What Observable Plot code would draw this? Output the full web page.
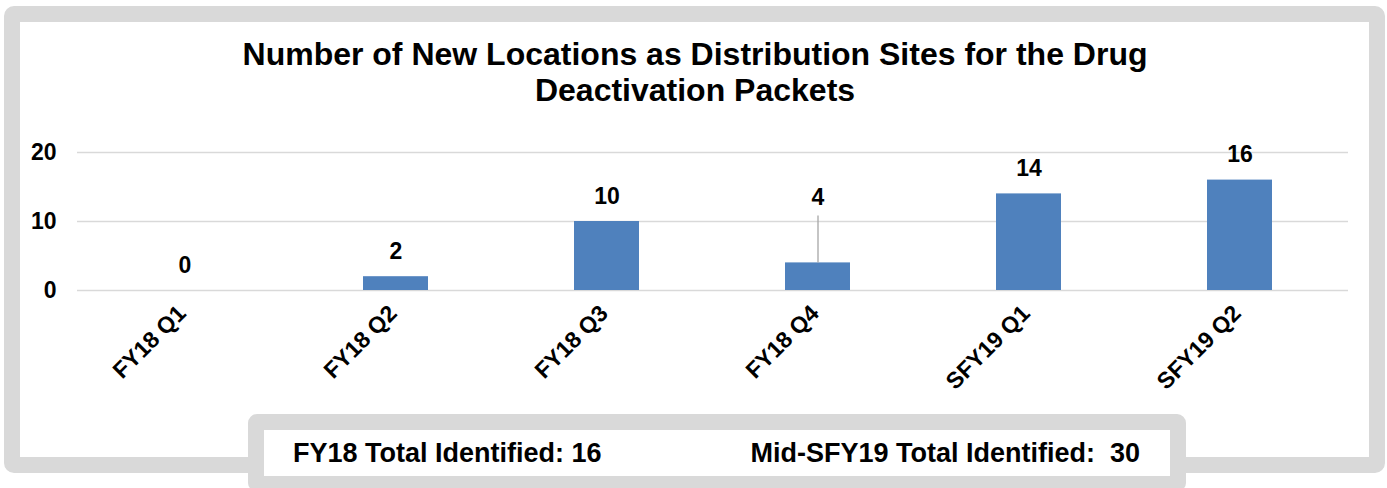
<!DOCTYPE html>
<html>
<head>
<meta charset="utf-8">
<script src="https://cdn.jsdelivr.net/npm/d3@7"></script>
<script src="https://cdn.jsdelivr.net/npm/@observablehq/plot@0.6"></script>
<style>
  html, body { margin: 0; padding: 0; background: #fff; width: 1387px; height: 488px; overflow: hidden;
    font-family: "Liberation Sans", Arial, sans-serif; color: #000; }
  #frame { position: absolute; left: 4px; top: 6px; width: 1349px; height: 435px;
    border: 16px solid #d9d9d9; border-radius: 10px; background: #fff; }
  #title { position: absolute; left: 20px; top: 36px; width: 1350px; text-align: center;
    font-size: 32px; line-height: 36px; font-weight: bold; }
  #chart { position: absolute; left: 0; top: 110px; }
  #totals { position: absolute; left: 248px; top: 414px; height: 46px;
    border: 16px solid #d9d9d9; border-radius: 9px; background: #fff;
    display: flex; justify-content: space-between; align-items: center;
    padding: 0 30px 0 29px; box-sizing: content-box; width: 847px;
    font-size: 27px; font-weight: bold; white-space: pre; }
</style>
</head>
<body>
<div id="frame"></div>
<div id="title"></div>
<div id="chart"></div>
<div id="totals"><span id="t1"></span><span id="t2"></span></div>
<script>
const titleLines = ["Number of New Locations as Distribution Sites for the Drug", "Deactivation Packets"];
const quarters = ["FY18 Q1", "FY18 Q2", "FY18 Q3", "FY18 Q4", "SFY19 Q1", "SFY19 Q2"];
const newSites = [0, 2, 10, 4, 14, 16];
const yTicks = [0, 10, 20];
const leaderLabelQuarters = ["FY18 Q4"];
const totalLabels = ["FY18 Total Identified: ", "Mid-SFY19 Total Identified:  "];
const totalValues = [16, 30];

const data = quarters.map((q, i) => ({quarter: q, value: newSites[i]}));
const isLeader = d => leaderLabelQuarters.includes(d.quarter);

document.getElementById("title").innerHTML = titleLines.join("<br>");
document.getElementById("t1").textContent = totalLabels[0] + totalValues[0];
document.getElementById("t2").textContent = totalLabels[1] + totalValues[1];

const font = "'Liberation Sans', Arial, sans-serif";
const chart = Plot.plot({
  width: 1387,
  height: 300,
  marginLeft: 77,
  marginRight: 39,
  marginTop: 42,
  marginBottom: 120,
  style: {background: "transparent", fontFamily: font, fontSize: "23px", fontWeight: "bold", color: "#000"},
  x: {domain: quarters, paddingInner: 0.69, paddingOuter: 0.345, axis: null},
  y: {domain: [0, 20], axis: null},
  marks: [
    Plot.ruleY(yTicks, {stroke: "#d9d9d9", strokeWidth: 1.5}),
    Plot.barY(data, {x: "quarter", y: "value", fill: "#4f81bd"}),
    Plot.ruleX(data.filter(isLeader), {x: "quarter", y1: "value", y2: "value", insetTop: -47, stroke: "#a6a6a6", strokeWidth: 1.3}),
    Plot.text(data.filter(d => !isLeader(d)), {x: "quarter", y: "value", text: d => String(d.value), dy: -25, fontSize: 23, fontWeight: "bold", fill: "#000"}),
    Plot.text(data.filter(isLeader), {x: "quarter", y: "value", text: d => String(d.value), dy: -65, fontSize: 23, fontWeight: "bold", fill: "#000"}),
    Plot.axisY({ticks: yTicks, tickSize: 0, tickPadding: 21, fontSize: 23, fontWeight: "bold", fill: "#000", label: null}),
    Plot.axisX({tickRotate: -45, tickSize: 0, tickPadding: 19, dx: -3, fontSize: 23, fontWeight: "bold", fill: "#000", label: null})
  ]
});
document.getElementById("chart").appendChild(chart);
</script>
</body>
</html>
